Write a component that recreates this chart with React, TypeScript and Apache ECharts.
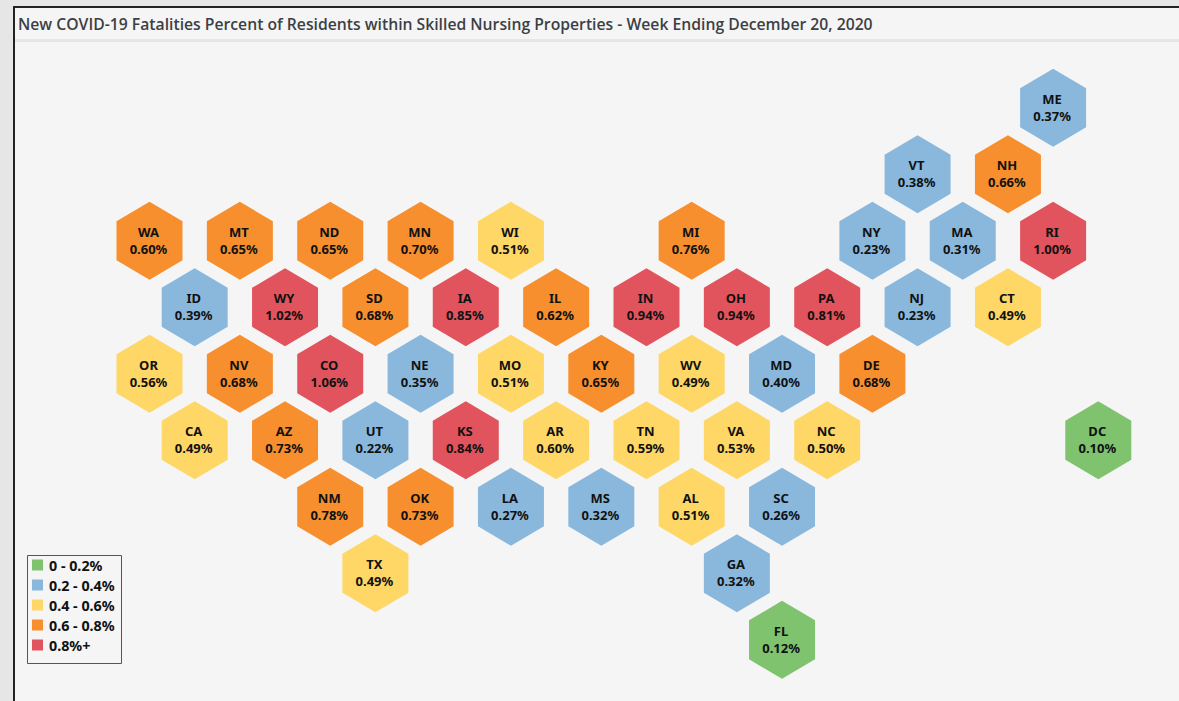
import React, { useEffect, useRef } from "react";
import * as echarts from "echarts";

const TITLE = "New COVID-19 Fatalities Percent of Residents within Skilled Nursing Properties - Week Ending December 20, 2020";
const states = ["ME","VT","NH","WA","MT","ND","MN","WI","MI","NY","MA","RI","ID","WY","SD","IA","IL","IN","OH","PA","NJ","CT","OR","NV","CO","NE","MO","KY","WV","MD","DE","CA","AZ","UT","KS","AR","TN","VA","NC","DC","NM","OK","LA","MS","AL","SC","TX","GA","FL"];
// MD and AR print as 0.40 and 0.60 but are coloured in the lower bin, so their unrounded values sit just below the limit.
const percents = [0.37,0.38,0.66,0.60,0.65,0.65,0.70,0.51,0.76,0.23,0.31,1.00,0.39,1.02,0.68,0.85,0.62,0.94,0.94,0.81,0.23,0.49,0.56,0.68,1.06,0.35,0.51,0.65,0.49,0.398,0.68,0.49,0.73,0.22,0.84,0.598,0.59,0.53,0.50,0.10,0.78,0.73,0.27,0.32,0.51,0.26,0.49,0.32,0.12];
const gridCols = [20,17,19,0,2,4,6,8,12,16,18,20,1,3,5,7,9,11,13,15,17,19,0,2,4,6,8,10,12,14,16,1,3,5,7,9,11,13,15,21,4,6,8,10,12,14,5,13,14];
const gridRows = [0,1,1,2,2,2,2,2,2,2,2,2,3,3,3,3,3,3,3,3,3,3,4,4,4,4,4,4,4,4,4,5,5,5,5,5,5,5,5,5,6,6,6,6,6,6,7,7,8];
const binLabels = ["0 - 0.2%","0.2 - 0.4%","0.4 - 0.6%","0.6 - 0.8%","0.8%+"];
const binColors = ["#7fc36f","#8ab8dc","#fed766","#f78f2e","#e1545e"];
const binLimits = [0.2,0.4,0.6,0.8,Infinity];

const HEX = "path://M33,0 L66,19.5 L66,58.5 L33,78 L0,58.5 L0,19.5 Z";
const LABEL_FONT = "'Noto Sans', sans-serif";

export default function App() {
  const ref = useRef<HTMLDivElement>(null);
  useEffect(() => {
    document.body.style.margin = "0";
    const chart = echarts.init(ref.current!, null, { renderer: "svg" });
    const binOf = (v: number) => binLimits.findIndex((l) => v < l);
    const series = binLabels.map((name, b) => ({
      type: "scatter" as const,
      name,
      symbol: HEX,
      symbolSize: [66, 78],
      symbolKeepAspect: false,
      silent: true,
      clip: false,
      itemStyle: { color: binColors[b], opacity: 1 },
      label: {
        show: true,
        position: "inside" as const,
        offset: [-1, -0.5],
        formatter: (p: any) => `${p.data[2]}\n${p.data[3].toFixed(2)}%`,
        fontFamily: LABEL_FONT,
        fontWeight: 700,
        fontSize: 13,
        lineHeight: 17,
        color: "#111",
      },
      data: states
        .map((s, i) => [gridCols[i], gridRows[i], s, percents[i]])
        .filter((d) => binOf(d[3] as number) === b),
    }));
    const legendItems = binLabels.flatMap((name, b) => [
      { type: "rect", shape: { x: 32, y: 559.5 + b * 20, width: 11, height: 11 }, style: { fill: binColors[b] } },
      { type: "text", x: 49, y: 558 + b * 20, style: { text: name, fill: "#111", font: `700 14.3px ${LABEL_FONT}` } },
    ]);
    chart.setOption({
      animation: false,
      backgroundColor: "#f5f5f5",
      grid: { left: 149.5, top: 107.8, width: 948.8, height: 532, containLabel: false },
      xAxis: { type: "value", min: 0, max: 21, show: false },
      yAxis: { type: "value", min: 0, max: 8, inverse: true, show: false },
      tooltip: { show: false },
      series,
      graphic: [
        { type: "rect", shape: { x: 0, y: 0, width: 1179, height: 6 }, style: { fill: "#e6e6e6" }, silent: true },
        { type: "rect", shape: { x: 0, y: 0, width: 13, height: 701 }, style: { fill: "#e6e6e6" }, silent: true },
        { type: "rect", shape: { x: 13, y: 6, width: 1166, height: 2 }, style: { fill: "#222" }, silent: true },
        { type: "rect", shape: { x: 13, y: 6, width: 2, height: 695 }, style: { fill: "#222" }, silent: true },
        { type: "rect", shape: { x: 15, y: 39, width: 1164, height: 3 }, style: { fill: "#e6e6e6" }, silent: true },
        { type: "text", x: 18, y: 16, style: { text: TITLE, fill: "#3c3f44", font: "600 15.72px 'Open Sans', sans-serif" } },
        { type: "rect", shape: { x: 27.5, y: 555.5, width: 94, height: 108 }, style: { fill: "#f5f5f5", stroke: "#555", lineWidth: 1 }, silent: true },
        ...legendItems,
      ],
    });
    return () => chart.dispose();
  }, []);
  return <div ref={ref} style={{ width: 1179, height: 701 }} />;
}
